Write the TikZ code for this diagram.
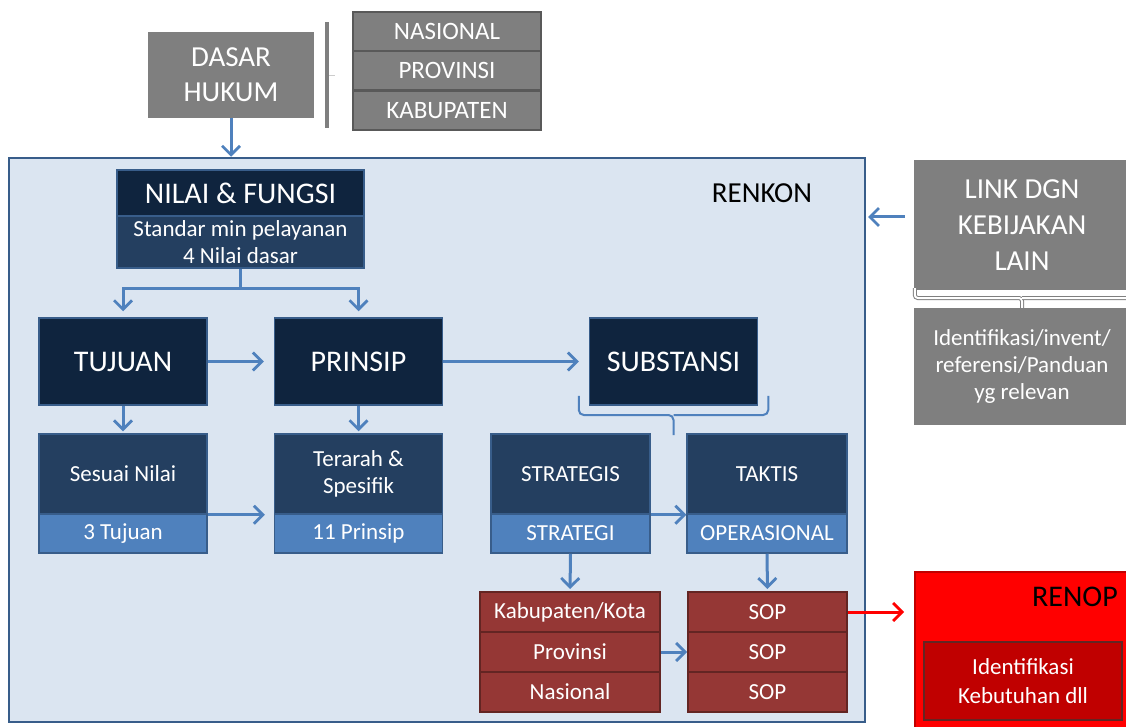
\documentclass[tikz,border=0pt]{standalone}
\usepackage{fontspec}
\setmainfont{Carlito}
\usetikzlibrary{arrows.meta,positioning}

\definecolor{ppgray}{HTML}{7F7F7F}
\definecolor{ppgrayline}{HTML}{595959}
\definecolor{ppnavy}{HTML}{0F243E}
\definecolor{ppslate}{HTML}{243F60}
\definecolor{ppblue}{HTML}{4F81BD}
\definecolor{ppline}{HTML}{385D8A}
\definecolor{ppback}{HTML}{DBE5F1}
\definecolor{ppbrown}{HTML}{953735}
\definecolor{ppbrownline}{HTML}{632523}
\definecolor{ppdarkred}{HTML}{C00000}

\newcommand{\fs}[2]{\fontsize{#1}{#2}\selectfont}

\begin{document}
\begin{tikzpicture}[x=1pt, y=-1pt,
   >={Straight Barb[length=9pt,width=18pt,line width=2.8pt]},
   flow/.style={draw=ppblue, line width=3pt},
   graybox/.style={fill=ppgray, text=white, align=center, inner sep=0pt},
   grayrow/.style={graybox, draw=ppgrayline, line width=2pt, minimum width=188pt, minimum height=39pt, font=\fs{25}{28}},
   head/.style={fill=ppnavy, draw=ppline, line width=1.5pt, text=white, align=center, inner sep=0pt, font=\fs{30}{34}},
   sub/.style={fill=ppslate, draw=ppline, line width=1.5pt, text=white, align=center, inner sep=0pt, font=\fs{23}{27}},
   foot/.style={fill=ppblue, draw=ppline, line width=1.5pt, text=white, align=center, inner sep=0pt, font=\fs{23}{26}, minimum height=39pt},
   level/.style={fill=ppbrown, draw=ppbrownline, line width=2pt, text=white, inner sep=0pt, font=\fs{23}{26}, minimum height=40pt}]
   \clip (0,0) rectangle (1126,727);

   \node (renkon) at (437,440) [draw=ppline, fill=ppback, line width=2.5pt, minimum width=856pt, minimum height=564pt] {};
   \node (renkonlbl) at (762,193) [font=\fs{29}{32}] {RENKON};

   \node (dasar) at (231,75) [graybox, minimum width=166pt, minimum height=86pt, font=\fs{29}{35}] {DASAR\\HUKUM};
   \node (bar) at (327,75) [fill=ppgray, minimum width=4pt, minimum height=106pt, inner sep=0pt] {};
   \draw (bar.east)[gray!40, line width=0.8pt] -- ++(6,0);
   \node (nasional) at (447,31.5) [grayrow] {NASIONAL};
   \node (provinsi) at (447,70.8) [grayrow] {PROVINSI};
   \node (kabupaten) at (447,110.1) [grayrow] {KABUPATEN};

   \node (nilai) at (240.5,193) [head, minimum width=247pt, minimum height=46pt] {NILAI \& FUNGSI};
   \node (nilaisub) at (240.5,242) [sub, minimum width=247pt, minimum height=52pt] {Standar min pelayanan\\4 Nilai dasar};

   \node (tujuan) at (123,361.5) [head, minimum width=168pt, minimum height=87pt] {TUJUAN};
   \node (prinsip) at (358.5,361.5) [head, minimum width=168pt, minimum height=87pt] {PRINSIP};
   \node (substansi) at (673.5,361.5) [head, minimum width=168pt, minimum height=87pt] {SUBSTANSI};

   \node (sesuai) at (123,474) [sub, minimum width=168pt, minimum height=80pt] {Sesuai Nilai};
   \node (tujuan3) at (123,533.5) [foot, minimum width=168pt] {3 Tujuan};
   \node (terarah) at (358.5,474) [sub, minimum width=168pt, minimum height=80pt] {Terarah \&\\Spesifik};
   \node (prinsip11) at (358.5,533.5) [foot, minimum width=168pt] {11 Prinsip};
   \node (strategis) at (570.5,474) [sub, minimum width=159pt, minimum height=80pt] {STRATEGIS};
   \node (strategi) at (570.5,533.5) [foot, minimum width=159pt] {STRATEGI};
   \node (taktis) at (767,474) [sub, minimum width=160pt, minimum height=80pt] {TAKTIS};
   \node (operasional) at (767,533.5) [foot, minimum width=160pt] {OPERASIONAL};

   \node (kabkota) at (570,612) [level, minimum width=180pt] {Kabupaten/Kota};
   \node (provkota) at (570,652) [level, minimum width=180pt] {Provinsi};
   \node (naskota) at (570,692) [level, minimum width=180pt] {Nasional};
   \node (sopa) at (767.5,612) [level, minimum width=159pt] {SOP};
   \node (sopb) at (767.5,652) [level, minimum width=159pt] {SOP};
   \node (sopc) at (767.5,692) [level, minimum width=159pt] {SOP};

   \node (link) at (1022,225) [graybox, minimum width=216pt, minimum height=130pt, font=\fs{29}{36}] {LINK DGN\\KEBIJAKAN\\LAIN};
   \node (invent) at (1022,366.5) [graybox, minimum width=216pt, minimum height=117pt, font=\fs{23}{27}] {Identifikasi/invent/\\referensi/Panduan\\yg relevan};

   \node (renop) at (1025,653.5) [fill=red, draw=ppdarkred, line width=2pt, minimum width=220pt, minimum height=163pt] {};
   \node (renoplbl) at (1075,597) [font=\fs{30}{34}] {RENOP};
   \node (kebutuhan) at (1023,681) [fill=ppdarkred, draw=ppbrownline, line width=2pt, minimum width=198pt, minimum height=78pt, text=white, align=center, font=\fs{23}{29}] {Identifikasi\\Kebutuhan dll};

   \coordinate (linkin) at (865,217);

   \draw (dasar.south)[flow, ->] -- (dasar.south |- renkon.north);
   \draw (nilaisub.south)[flow, ->, shorten >=6pt] -- ++(0,20) -| (tujuan.north);
   \draw (nilaisub.south)[flow, ->, shorten >=6pt] -- ++(0,20) -| (prinsip.north);
   \draw (tujuan)[flow, ->, shorten >=10pt] -- (prinsip);
   \draw (prinsip)[flow, ->, shorten >=10pt] -- (substansi);
   \draw (tujuan.south)[flow, ->, shorten >=2pt] -- (sesuai.north);
   \draw (prinsip.south)[flow, ->, shorten >=2pt] -- (terarah.north);
   \draw (sesuai.south east)[flow, ->, shorten >=9pt] -- (terarah.south west);
   \draw (strategis.south east)[flow, ->] -- (taktis.south west);
   \draw (strategi.south)[flow, ->, shorten >=2pt] -- (kabkota.north);
   \draw (operasional.south)[flow, ->, shorten >=2pt] -- (sopa.north);
   \draw (provkota.east)[flow, ->] -- (sopb.west);
   \draw (sopa.east)[draw=red, line width=3pt, ->, shorten >=10pt] -- (renop.west |- sopa.east);
   \draw ([yshift=8pt]link.west)[flow, ->, shorten <=9pt, shorten >=3pt] -- (linkin);

   \draw (substansi.south west)[draw=ppblue, line width=2pt, rounded corners=5pt] ++(-10,-10) |- (substansi.south |- 0,415) -- (substansi.south |- 0,435);
   \draw (substansi.south east)[draw=ppblue, line width=2pt, rounded corners=5pt] ++(10,-10) |- (substansi.south |- 0,415);

   \draw (link.south west)[draw=ppgray, double=white, double distance=2pt, line width=1pt, rounded corners=3pt] ++(1,-2) |- (link.south |- 0,298) -- (invent.north);
   \draw (link.south east)[draw=ppgray, double=white, double distance=2pt, line width=1pt, rounded corners=3pt] ++(-1,-2) |- (link.south |- 0,298);
\end{tikzpicture}
\end{document}
